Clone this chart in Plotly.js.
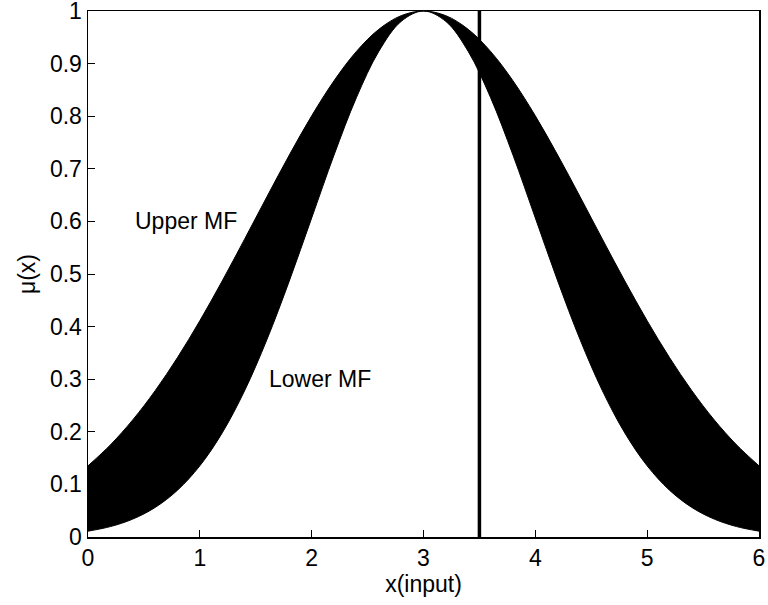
<!DOCTYPE html>
<html>
<head>
<meta charset="utf-8">
<script src="https://cdn.plot.ly/plotly-3.0.1.min.js"></script>
<style>
  html, body { margin: 0; padding: 0; background: #fff; }
  #chart { width: 768px; height: 605px; }
</style>
</head>
<body>
<div id="chart"></div>
<script>
// Input axis samples
const xInput = [0.0, 0.2, 0.4, 0.6, 0.8, 1.0, 1.2, 1.4, 1.6, 1.8, 2.0, 2.2, 2.4, 2.6, 2.8, 3.0,
                3.2, 3.4, 3.6, 3.8, 4.0, 4.2, 4.4, 4.6, 4.8, 5.0, 5.2, 5.4, 5.6, 5.8, 6.0];

// Upper membership function (wider Gaussian)
const upperMF = [0.1353, 0.1751, 0.2226, 0.2780, 0.3411, 0.4111, 0.4868, 0.5662, 0.6469, 0.7261,
                 0.8007, 0.8674, 0.9231, 0.9651, 0.9911, 1.0000,
                 0.9911, 0.9651, 0.9231, 0.8674, 0.8007, 0.7261, 0.6469, 0.5662, 0.4868, 0.4111,
                 0.3411, 0.2780, 0.2226, 0.1751, 0.1353];

// Lower membership function (narrower Gaussian)
const lowerMF = [0.0111, 0.0198, 0.0340, 0.0561, 0.0889, 0.1353, 0.1979, 0.2780, 0.3753, 0.4868,
                 0.6065, 0.7261, 0.8353, 0.9231, 0.9802, 1.0000,
                 0.9802, 0.9231, 0.8353, 0.7261, 0.6065, 0.4868, 0.3753, 0.2780, 0.1979, 0.1353,
                 0.0889, 0.0561, 0.0340, 0.0198, 0.0111];

// Crisp input marker
const inputValue = 3.5;
const markerSpan = [0, 1];

const xTicks = [0, 1, 2, 3, 4, 5, 6];
const yTicks = [0, 0.1, 0.2, 0.3, 0.4, 0.5, 0.6, 0.7, 0.8, 0.9, 1];

const fontFamily = 'Liberation Sans, Arial, Helvetica, sans-serif';
const fontSize = 23;

const traces = [
  {
    x: xInput, y: lowerMF, type: 'scatter', mode: 'lines',
    line: { color: '#000', width: 1, shape: 'spline' },
    hoverinfo: 'skip', showlegend: false
  },
  {
    x: xInput, y: upperMF, type: 'scatter', mode: 'lines',
    line: { color: '#000', width: 1, shape: 'spline' },
    fill: 'tonexty', fillcolor: '#000',
    hoverinfo: 'skip', showlegend: false
  },
  {
    x: [inputValue, inputValue], y: markerSpan, type: 'scatter', mode: 'lines',
    line: { color: '#000', width: 3.5 },
    hoverinfo: 'skip', showlegend: false
  }
];

const axisCommon = {
  showgrid: false, zeroline: false,
  showline: true, linecolor: '#000', linewidth: 1.5, mirror: true,
  ticks: 'inside', ticklen: 7, tickwidth: 1, tickcolor: '#000',
  ticklabeloverflow: 'allow',
  tickfont: { family: fontFamily, size: fontSize, color: '#000' }
};

const layout = {
  width: 768, height: 605,
  margin: { l: 88, r: 9, t: 11, b: 68 },
  paper_bgcolor: '#fff', plot_bgcolor: '#fff',
  font: { family: fontFamily, color: '#000' },
  xaxis: Object.assign({}, axisCommon, {
    range: [0, 6], tickvals: xTicks, ticktext: xTicks.map(String),
    title: { text: 'x(input)', font: { family: fontFamily, size: fontSize, color: '#000' }, standoff: 0 }
  }),
  yaxis: Object.assign({}, axisCommon, {
    range: [0, 1.000001], tickvals: yTicks, ticktext: yTicks.map(String),
    title: { text: 'μ(x)', font: { family: fontFamily, size: fontSize, color: '#000' }, standoff: 8 }
  }),
  annotations: [
    { x: 0.4, y: 0.6, xref: 'x', yref: 'y', text: 'Upper MF', showarrow: false,
      xanchor: 'left', yanchor: 'middle', font: { family: fontFamily, size: fontSize, color: '#000' } },
    { x: 1.6, y: 0.3, xref: 'x', yref: 'y', text: 'Lower MF', showarrow: false,
      xanchor: 'left', yanchor: 'middle', font: { family: fontFamily, size: fontSize, color: '#000' } }
  ]
};

Plotly.newPlot('chart', traces, layout, { staticPlot: true, displayModeBar: false });
</script>
</body>
</html>
